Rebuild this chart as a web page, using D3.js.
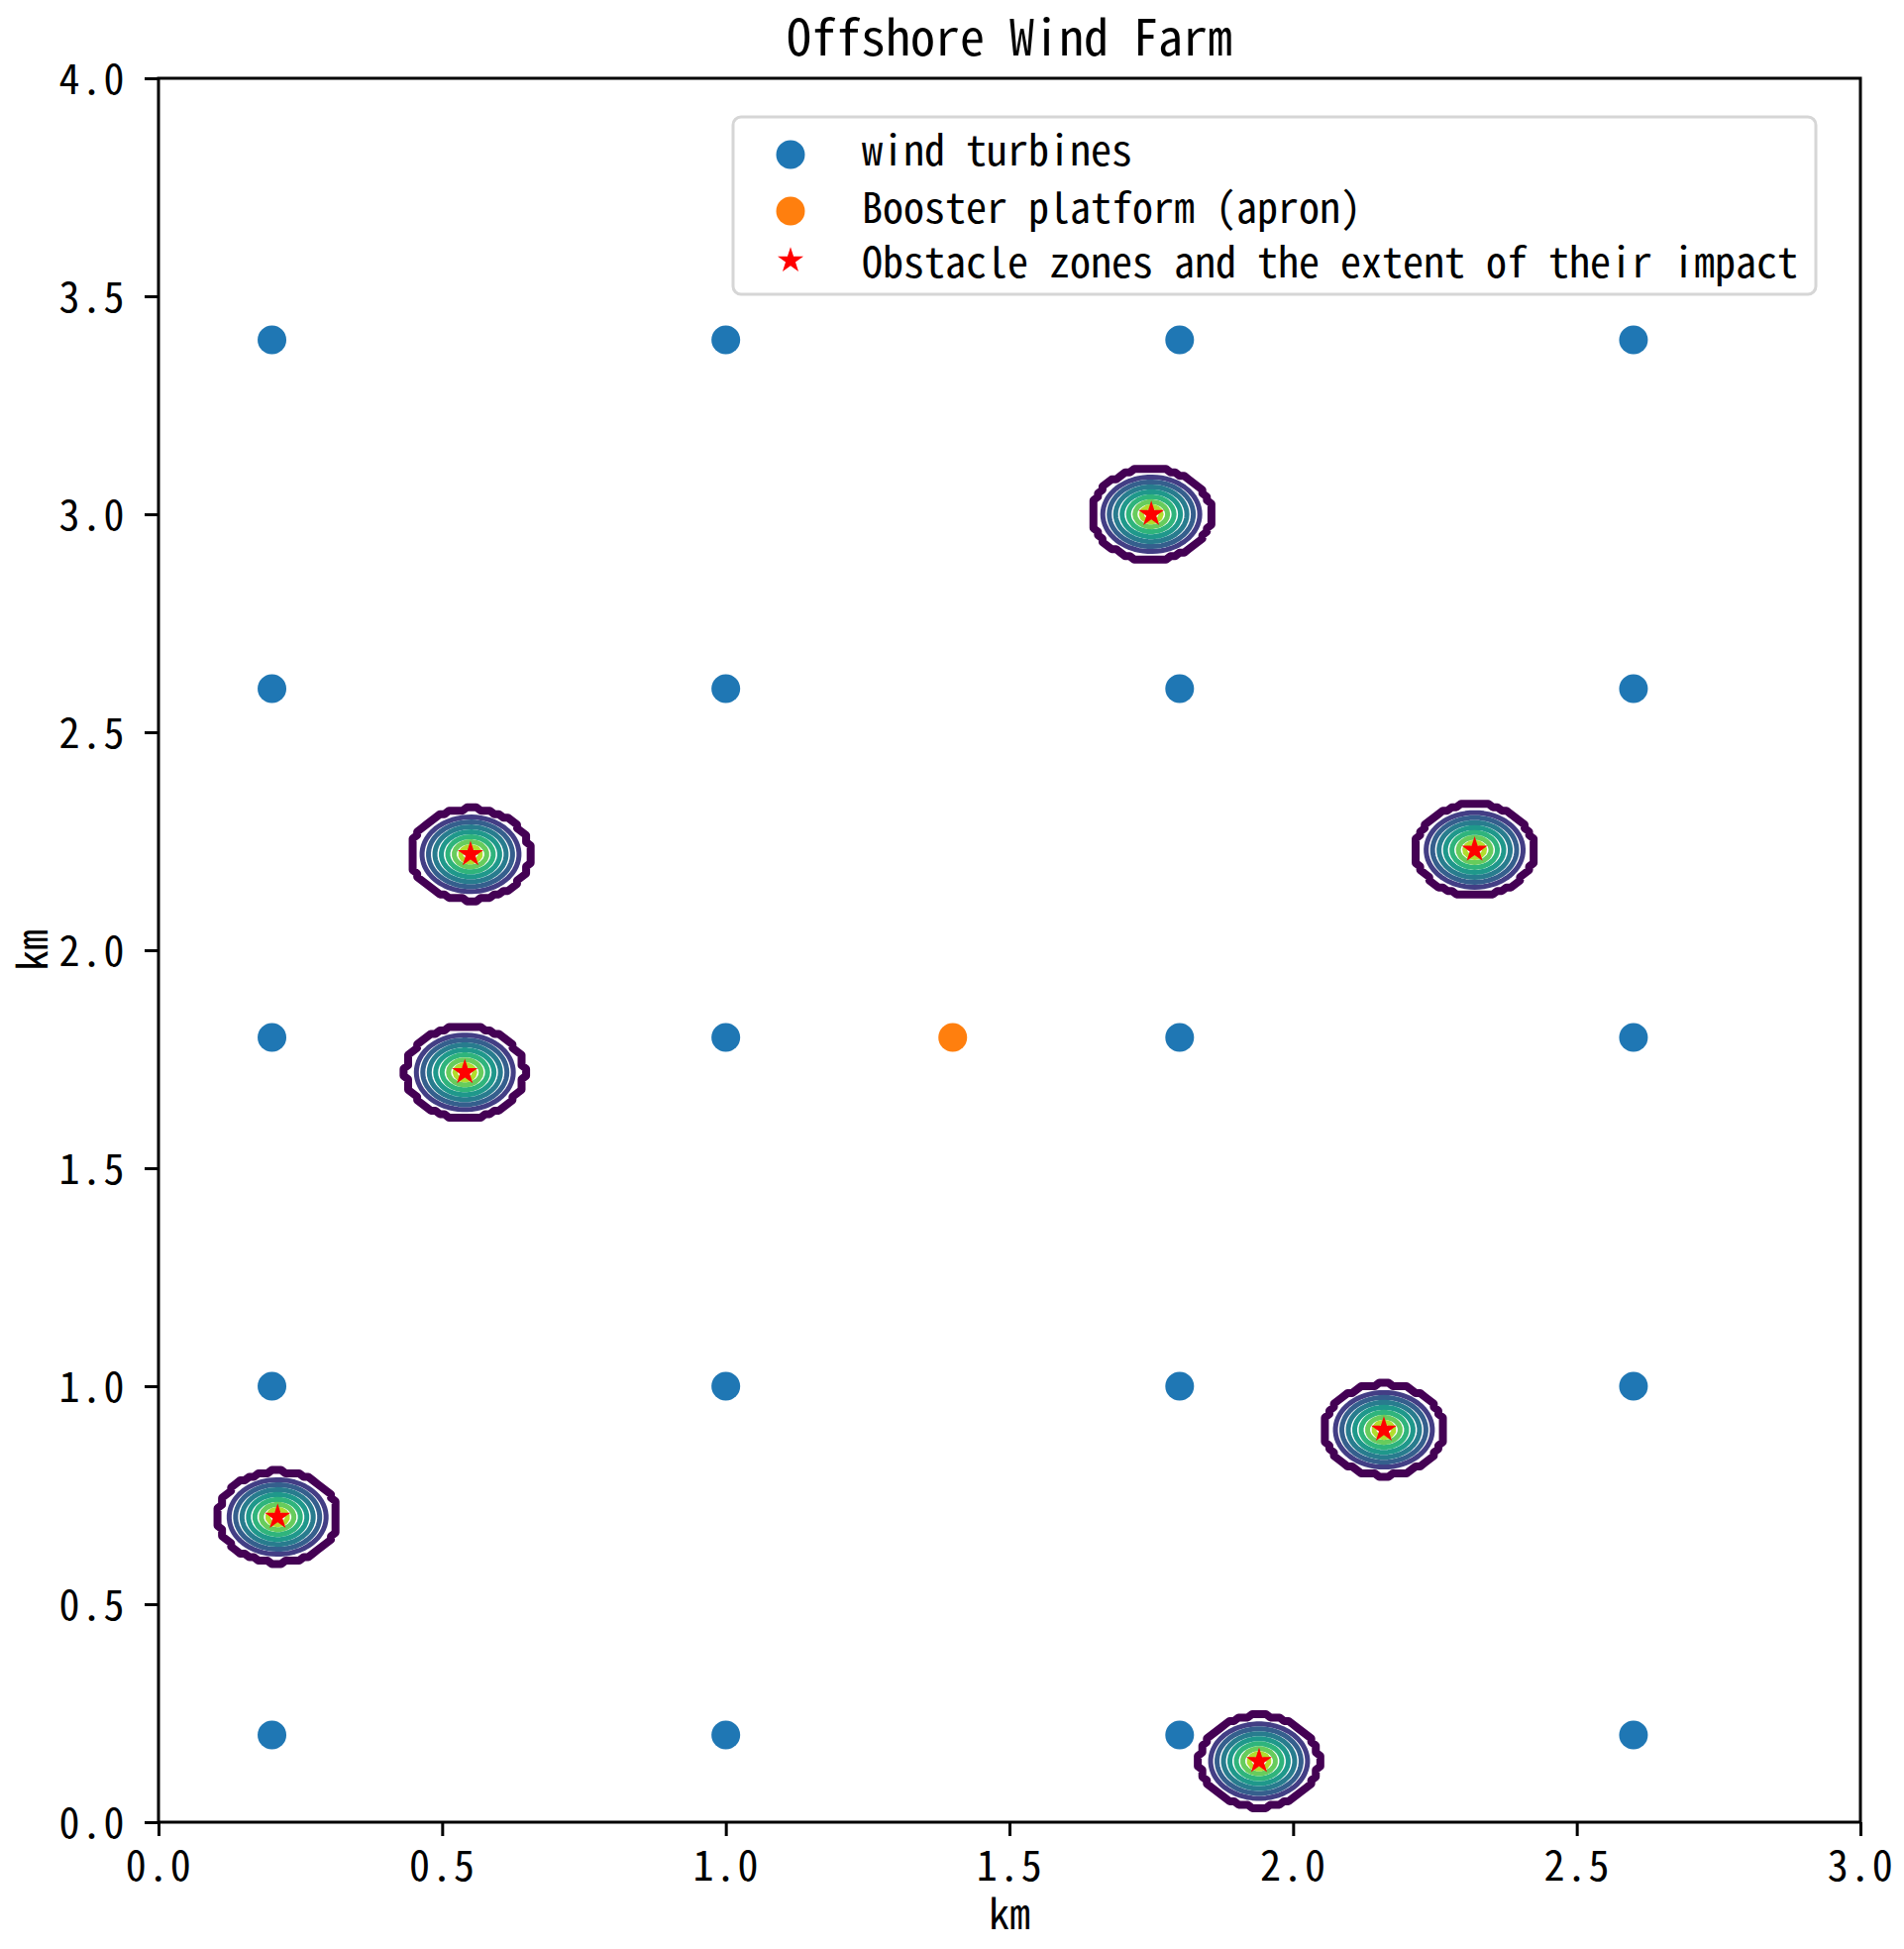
<!DOCTYPE html>
<html><head><meta charset="utf-8">
<script src="https://cdn.jsdelivr.net/npm/d3@7"></script>
<style>body{margin:0;background:#fff}</style>
</head><body>
<svg id="chart" width="1922" height="1967"></svg>
<script>
// ---- data ----
const turbineX = [0.2, 1.0, 1.8, 2.6];
const turbineY = [0.2, 1.0, 1.8, 2.6, 3.4];
const boosterX = [1.4];
const boosterY = [1.8];
const obstacleX = [1.75, 0.55, 2.32, 0.54, 2.16, 0.21, 1.94];
const obstacleY = [3.00, 2.22, 2.23, 1.72, 0.90, 0.70, 0.14];
const impactRadius = 0.103;     // extent of impact zone (km)
const impactCutoff = 0.98;      // zone is truncated here (fraction of radius)
const contourLevels = [0.000001, 0.17, 0.28, 0.39, 0.5, 0.61, 0.72, 0.83, 0.94];
const xTicks = [0, 0.5, 1.0, 1.5, 2.0, 2.5, 3.0];
const yTicks = [0, 0.5, 1.0, 1.5, 2.0, 2.5, 3.0, 3.5, 4.0];
const legendLabels = ["wind turbines", "Booster platform (apron)", "Obstacle zones and the extent of their impact"];
const titleText = "Offshore Wind Farm";
const xLabel = "km", yLabel = "km";

// ---- layout ----
const FONT = "'Noto Sans Mono CJK SC','Noto Sans Mono CJK JP','DejaVu Sans Mono',monospace";
const L = 160, R = 1878, T = 79, B = 1839;
const svg = d3.select("#chart");
const x = d3.scaleLinear().domain([0, 3]).range([L, R]);
const y = d3.scaleLinear().domain([0, 4]).range([B, T]);

svg.append("defs").append("clipPath").attr("id", "clip")
  .append("rect").attr("x", L).attr("y", T).attr("width", R - L).attr("height", B - T);

const plot = svg.append("g").attr("clip-path", "url(#clip)");

// turbines
const turbines = [];
turbineY.forEach(yy => turbineX.forEach(xx => turbines.push([xx, yy])));
plot.selectAll("circle.t").data(turbines).join("circle").attr("class", "t")
  .attr("cx", d => x(d[0])).attr("cy", d => y(d[1])).attr("r", 14.5).attr("fill", "#1f77b4");
plot.selectAll("circle.b").data(boosterX.map((v, i) => [v, boosterY[i]])).join("circle").attr("class", "b")
  .attr("cx", d => x(d[0])).attr("cy", d => y(d[1])).attr("r", 14.5).attr("fill", "#ff7f0e");

// contour field (cone, truncated at the edge of the impact zone)
const step = 0.008;
const nx = Math.round(3 / step) + 1, ny = Math.round(4 / step) + 1;
const values = new Float64Array(nx * ny);
for (let j = 0; j < ny; j++) {
  const gy = j * step;
  for (let i = 0; i < nx; i++) {
    const gx = i * step;
    let v = 0;
    for (let k = 0; k < obstacleX.length; k++) {
      const d = Math.hypot(gx - obstacleX[k], gy - obstacleY[k]) / impactRadius;
      if (d <= impactCutoff) v = Math.max(v, 1 - d);
    }
    values[j * nx + i] = v;
  }
}
const contours = d3.contours().size([nx, ny]).thresholds(contourLevels)(values);
const proj = d3.geoTransform({
  point: function (px, py) {
    this.stream.point(x((px - 0.5) * step), y((py - 0.5) * step));
  }
});
const path = d3.geoPath(proj);
const cmin = contourLevels[0], cmax = contourLevels[contourLevels.length - 1];
plot.selectAll("path.c").data(contours).join("path").attr("class", "c")
  .attr("d", path).attr("fill", "none")
  .attr("stroke", d => d3.interpolateViridis((d.value - cmin) / (cmax - cmin)))
  .attr("stroke-width", (d, i) => i === 0 ? 8 : 5).attr("stroke-linejoin", "round");

// obstacle stars
const star = d3.symbol().type(d3.symbolStar).size(210);
plot.selectAll("path.s").data(obstacleX.map((v, i) => [v, obstacleY[i]])).join("path").attr("class", "s")
  .attr("d", star).attr("transform", d => `translate(${x(d[0])},${y(d[1])})`).attr("fill", "#ff0000");

// axes
const fmt = d3.format(".1f");
const xAxis = svg.append("g").attr("transform", `translate(0,${B})`)
  .call(d3.axisBottom(x).tickValues(xTicks).tickFormat(fmt).tickSize(14).tickSizeOuter(0));
const yAxis = svg.append("g").attr("transform", `translate(${L},0)`)
  .call(d3.axisLeft(y).tickValues(yTicks).tickFormat(fmt).tickSize(14).tickSizeOuter(0));
[xAxis, yAxis].forEach(a => {
  a.select(".domain").remove();
  a.selectAll(".tick line").attr("stroke", "#000").attr("stroke-width", 3);
  a.selectAll(".tick text").attr("font-family", FONT).attr("font-size", 42).attr("fill", "#000")
    .attr("letter-spacing", 1.5);
});
xAxis.selectAll(".tick text").attr("dy", null).attr("y", 59);
yAxis.selectAll(".tick text").attr("dy", null).attr("x", -33).attr("y", 15);

svg.append("rect").attr("x", L).attr("y", T).attr("width", R - L).attr("height", B - T)
  .attr("fill", "none").attr("stroke", "#000").attr("stroke-width", 3);

// labels
svg.append("text").attr("x", (L + R) / 2).attr("y", 56).attr("text-anchor", "middle")
  .attr("font-family", FONT).attr("font-size", 50).text(titleText);
svg.append("text").attr("x", (L + R) / 2).attr("y", 1947).attr("text-anchor", "middle")
  .attr("font-family", FONT).attr("font-size", 42).text(xLabel);
svg.append("text").attr("transform", `translate(48,${(T + B) / 2}) rotate(-90)`).attr("text-anchor", "middle")
  .attr("font-family", FONT).attr("font-size", 42).text(yLabel);

// legend
const lg = svg.append("g");
lg.append("rect").attr("x", 740).attr("y", 118).attr("width", 1093).attr("height", 179)
  .attr("rx", 8).attr("fill", "#fff").attr("fill-opacity", 0.8)
  .attr("stroke", "#d6d6d6").attr("stroke-width", 3);
const rowY = [156, 213, 263];
const textY = [167, 225, 280];
lg.append("circle").attr("cx", 798).attr("cy", rowY[0]).attr("r", 14.5).attr("fill", "#1f77b4");
lg.append("circle").attr("cx", 798).attr("cy", rowY[1]).attr("r", 14.5).attr("fill", "#ff7f0e");
lg.append("path").attr("d", star).attr("transform", `translate(798,${rowY[2]})`).attr("fill", "#ff0000");
lg.selectAll("text").data(legendLabels).join("text")
  .attr("x", 870).attr("y", (d, i) => textY[i])
  .attr("font-family", FONT).attr("font-size", 42).text(d => d);
</script>
</body></html>
